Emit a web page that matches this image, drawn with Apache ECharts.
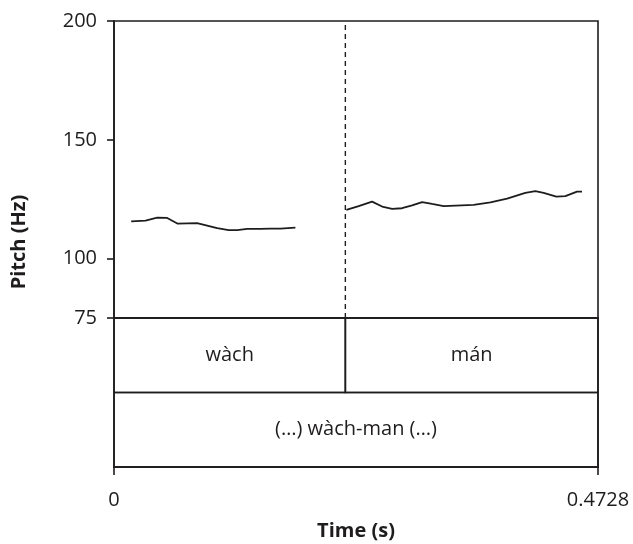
<!DOCTYPE html>
<html>
<head>
<meta charset="utf-8">
<script src="https://cdn.jsdelivr.net/npm/echarts@6/dist/echarts.min.js"></script>
<style>
  html, body { margin: 0; background: #fff; }
  #main { width: 633px; height: 544px; }
</style>
</head>
<body>
<div id="main"></div>
<script>
// pitch track, first syllable
var wachTime = [0.0168, 0.0308, 0.0422, 0.0520, 0.0623, 0.0812, 0.0910, 0.1008, 0.1121, 0.1203, 0.1301, 0.1431, 0.1528, 0.1626, 0.1772]
var wachPitch = [115.7, 116.0, 117.2, 117.1, 114.7, 114.9, 113.9, 112.8, 112.0, 112.0, 112.5, 112.5, 112.6, 112.6, 113.0]
// pitch track, second syllable
var manTime = [0.2270, 0.2390, 0.2521, 0.2619, 0.2717, 0.2814, 0.2912, 0.3010, 0.3107, 0.3220, 0.3513, 0.3677, 0.3840, 0.4018, 0.4116, 0.4197, 0.4321, 0.4409, 0.4523, 0.4572]
var manPitch = [120.5, 122.1, 124.0, 121.9, 120.9, 121.2, 122.4, 123.8, 123.0, 122.1, 122.6, 123.7, 125.2, 127.7, 128.4, 127.7, 126.1, 126.3, 128.2, 128.2]

var pitchTicks = [75, 100, 150, 200]
var timeTicks = [0, 0.4728]
var boundary = 0.226

// annotation tiers
var tierStart = [0, 0.226, 0]
var tierEnd = [0.226, 0.4728, 0.4728]
var tierRow = [1, 1, 0]
var tierText = ['wàch', 'mán', '(…) wàch-man (…)']

var ink = '#1f1c1d'
var font = 'Open Sans'

var chart = echarts.init(document.getElementById('main'))

function pairs (xs, ys) {
  return xs.map(function (x, i) { return [x, ys[i]] })
}

var tierData = tierStart.map(function (s, i) {
  return [s, tierEnd[i], tierRow[i]]
})

chart.setOption({
  animation: false,
  grid: [
    { left: 114, right: 35, top: 21, height: 297, show: true, borderColor: ink, borderWidth: 1.6 },
    { left: 114, right: 35, top: 318, height: 149, show: true, borderColor: ink, borderWidth: 1.6 }
  ],
  xAxis: [
    { gridIndex: 0, type: 'value', min: 0, max: 0.4728, show: false },
    {
      gridIndex: 1,
      type: 'value',
      min: 0,
      max: 0.4728,
      name: 'Time (s)',
      nameLocation: 'middle',
      nameGap: 54,
      nameTextStyle: { fontFamily: font, fontWeight: 'bold', fontSize: 20, color: ink },
      splitLine: { show: false },
      axisLine: { show: true, lineStyle: { color: ink, width: 1.6 } },
      axisTick: { show: true, length: 8, customValues: timeTicks, lineStyle: { color: ink, width: 1.6 } },
      axisLabel: { customValues: timeTicks, margin: 23, fontFamily: font, fontSize: 20, color: ink }
    }
  ],
  yAxis: [
    {
      gridIndex: 0,
      type: 'value',
      min: 75,
      max: 200,
      splitLine: { show: false },
      axisLine: { show: true, lineStyle: { color: ink, width: 1.6 } },
      axisTick: { show: true, length: 7, customValues: pitchTicks, lineStyle: { color: ink, width: 1.6 } },
      axisLabel: { customValues: pitchTicks, margin: 17, fontFamily: font, fontSize: 20, color: ink }
    },
    { gridIndex: 1, type: 'value', min: 0, max: 2, show: false }
  ],
  graphic: [{
    type: 'text',
    x: 19,
    y: 242,
    rotation: Math.PI / 2,
    style: {
      text: 'Pitch (Hz)',
      font: 'bold 20px "Open Sans"',
      fill: ink,
      align: 'center',
      verticalAlign: 'middle'
    }
  }],
  series: [
    {
      // syllable boundary in the pitch panel
      type: 'line',
      xAxisIndex: 0,
      yAxisIndex: 0,
      data: [[boundary, 75], [boundary, 200]],
      symbol: 'none',
      lineStyle: { color: ink, width: 1.4, type: [5, 4] }
    },
    {
      type: 'line',
      xAxisIndex: 0,
      yAxisIndex: 0,
      data: pairs(wachTime, wachPitch),
      symbol: 'none',
      lineStyle: { color: ink, width: 1.8 }
    },
    {
      type: 'line',
      xAxisIndex: 0,
      yAxisIndex: 0,
      data: pairs(manTime, manPitch),
      symbol: 'none',
      lineStyle: { color: ink, width: 1.8 }
    },
    {
      type: 'custom',
      xAxisIndex: 1,
      yAxisIndex: 1,
      data: tierData,
      renderItem: function (params, api) {
        var a = api.coord([api.value(0), api.value(2) + 1])
        var b = api.coord([api.value(1), api.value(2)])
        return {
          type: 'group',
          children: [
            {
              type: 'rect',
              shape: { x: a[0], y: a[1], width: b[0] - a[0], height: b[1] - a[1] },
              style: { fill: 'none', stroke: ink, lineWidth: 1.6 }
            },
            {
              type: 'text',
              x: (a[0] + b[0]) / 2,
              y: (a[1] + b[1]) / 2,
              style: {
                text: tierText[params.dataIndex],
                font: '20px "Open Sans"',
                fill: ink,
                align: 'center',
                verticalAlign: 'middle'
              }
            }
          ]
        }
      }
    }
  ]
})
</script>
</body>
</html>
